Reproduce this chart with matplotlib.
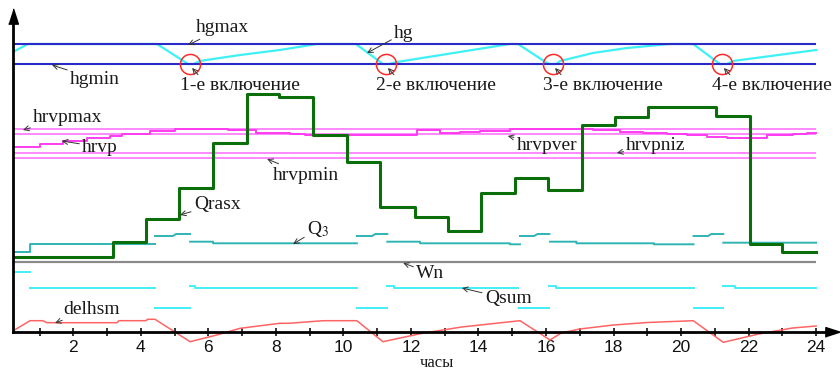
import numpy as np
import matplotlib
matplotlib.use('Agg')
import matplotlib.pyplot as plt

plt.rcParams['font.family'] = ['Liberation Sans', 'DejaVu Sans']
plt.rcParams['mathtext.fontset'] = 'stix'
nan = np.nan

# time span of all curves, hours
t_start, t_end = 0.21, 24.0

# --- reservoir level hg and its limits (arbitrary units, 0 = time axis)
hgmax = 288
hgmin = 268
hg_t = [0.21, 0.66, 4.48, 5.40, 5.57, 5.75, 6.94, 8.12, 9.22, 10.37, 11.17, 11.35, 11.59,
        14.93, 15.17, 16.03, 16.12, 16.30, 16.42, 17.39, 18.40, 19.67, 20.36, 21.07,
        21.16, 21.36, 21.54, 24.0]
hg_v = [280, 288, 288, 268, 268, 271, 277, 282, 288, 288, 268, 268, 270,
        288, 288, 269, 268, 268, 271, 279, 284, 288, 288, 270,
        268, 268, 271, 282]
switch_t = [5.46, 11.26, 16.21, 21.21]
switch_names = ['1-е включение', '2-е включение', '3-е включение', '4-е включение']

# --- hrvp band
hrvpmax = 203
hrvpver = 198
hrvpniz = 179
hrvpmin = 174
hrvp_t = [0.21, 1.01, 1.69, 2.4, 3.09, 3.44, 4.27, 5.01, 6.58, 7.41, 8.42, 8.86, 10.11, 11.08,
          12.18, 12.86, 13.45, 14.05, 14.93, 17.39, 18.19, 18.88, 19.59, 20.18, 20.77, 21.36,
          22.55, 23.32, 23.73, 24.0]
hrvp_v = [185, 188, 191, 194, 196.5, 198, 201.3, 203, 202, 198.7, 198, 197, 197, 197.5,
          202, 199, 200, 201.3, 203, 202, 200.3, 198.7, 198, 197, 195.3, 194,
          197, 198, 199, 199]

# --- Qrasx (step function)
qrasx_t = [0.21, 3.18, 4.15, 5.13, 6.14, 7.15, 8.1, 9.1, 10.1, 11.08, 12.12, 13.1, 14.07,
           15.08, 16.06, 17.07, 18.05, 19.03, 21.04, 22.03, 23.0, 24.0]
qrasx_v = [75.3, 90.3, 113, 144, 189, 237.7, 234.7, 197, 170.3, 125.3, 115, 101, 139.3,
           154.3, 142, 207, 214.7, 225.3, 216, 88, 79.7, 79.7]

# --- Q3 (segments separated by nan)
q3_t = [0.21, 0.72, 0.72, 4.42, nan, 4.42, 4.95, 5.05, 5.46, nan,
        5.46, 6.14, 6.14, 10.4, nan, 10.4, 10.85, 10.95, 11.3, nan,
        11.3, 12.27, 12.27, 14.93, 14.93, 15.23, nan, 15.23, 15.65, 15.75, 16.1, nan,
        16.12, 16.9, 16.9, 19.2, 19.2, 20.37, nan, 20.37, 20.8, 20.9, 21.25, nan,
        21.25, 24.0]
q3_v = [80, 80, 88, 88, nan, 96, 96, 98, 98, nan,
        90.3, 90.3, 88.7, 88.7, nan, 96, 96, 98, 98, nan,
        90.3, 90.3, 88.7, 88.7, 87.7, 87.7, nan, 96, 96, 98, 98, nan,
        90.3, 90.3, 88.7, 88.7, 87.7, 87.7, nan, 96, 96, 98, 98, nan,
        89.3, 89.3]

# --- Wn
wn = 69.7

# --- Qsum
qsum_t = [0.21, 0.72, nan, 0.72, 4.42, nan, 4.42, 5.46, nan, 5.46, 5.6, 5.6, 10.4, nan,
          10.4, 11.3, nan, 11.3, 11.5, 11.5, 15.17, nan, 15.2, 16.1, nan,
          16.1, 16.3, 16.3, 20.37, nan, 20.37, 21.25, nan, 21.25, 21.6, 21.6, 24.0]
qsum_v = [59.7, 59.7, nan, 43.7, 43.7, nan, 23.7, 23.7, nan, 46.3, 46.3, 43.7, 43.7, nan,
          23.7, 23.7, nan, 46.3, 46.3, 43.7, 43.7, nan, 23.7, 23.7, nan,
          46.3, 46.3, 43.7, 43.7, nan, 23.7, 23.7, nan, 46.3, 46.3, 43.7, 43.7]

# --- delhsm
dh_t = [0.21, 0.72, 1.1, 1.22, 3.3, 3.35, 4.15, 4.2, 4.42, 5.46, 6.25, 6.94, 8.12, 8.4, 9.0,
        9.4, 10.4, 11.17, 12.3, 13.5, 15.23, 16.12, 16.45, 17.0, 18.0, 19.0, 20.36, 21.25,
        22.3, 23.3, 24.0]
dh_v = [1, 11.3, 11.3, 9.3, 9.3, 11.3, 11.3, 12.7, 12.7, -9.7, -3, 3.7, 8.7, 8.7, 10.3,
        11.3, 11.3, -9.7, -1.5, 5, 11.3, -8, -1, 3, 7, 9.5, 11.3, -10.3,
        -2, 4, 6]

fig = plt.figure(figsize=(8.4, 3.7), dpi=100)
ax = fig.add_axes([12.5 / 840, 0, (833 - 12.5) / 840, 354 / 370])
ax.set_xlim(0.2, 24.5)
ax.set_ylim(-38, 316)

blue = '#2a2ac8'
cyan = '#3ff0f5'
pink = '#ff80ff'

# hg group
ax.plot(hg_t, hg_v, color=cyan, lw=1.6, zorder=2)
ax.hlines([hgmax, hgmin], t_start, t_end, color=blue, lw=1.5, zorder=3)
ax.plot(switch_t, [hgmin] * len(switch_t), 'o', ms=14.5, mfc='none', mec='#ff2a2a', mew=1.1, zorder=4)

# hrvp group
ax.hlines([hrvpmax, hrvpver, hrvpniz, hrvpmin], t_start, t_end, color=pink, lw=1.3, zorder=2)
ax.plot(hrvp_t, hrvp_v, color='#ff3cf0', lw=1.4, drawstyle='steps-post', zorder=2)

ax.plot(q3_t, q3_v, color='#2fb4b4', lw=1.4, zorder=2)
ax.hlines(wn, t_start, t_end, color='#8a8a8a', lw=1.6, zorder=2)
ax.plot(qsum_t, qsum_v, color=cyan, lw=1.4, zorder=2)
ax.plot(dh_t, dh_v, color='#ff6464', lw=1.1, zorder=2)
ax.plot(qrasx_t, qrasx_v, color='#0a6e0a', lw=2.2, drawstyle='steps-post', zorder=3)

# axes with arrows
for s in ['top', 'right']:
    ax.spines[s].set_visible(False)
ax.spines['bottom'].set_position(('data', 0))
ax.spines['left'].set_bounds(0, 316)
for s in ['bottom', 'left']:
    ax.spines[s].set_linewidth(2)
    ax.spines[s].set_zorder(5)
ax.plot([1], [0], marker=[(-0.5, -0.32), (-0.5, 0.32), (0.5, 0)], ms=11, color='k',
        transform=ax.get_yaxis_transform(), clip_on=False, zorder=6)
ax.plot([0.2], [1], marker=[(-0.32, -0.5), (0.32, -0.5), (0, 0.5)], ms=11, color='k',
        transform=ax.get_xaxis_transform(), clip_on=False, zorder=6)
ax.set_yticks([])
ax.set_xticks(range(2, 25, 2))
ax.set_xticks(range(1, 25, 2), minor=True)
ax.tick_params(axis='x', which='both', direction='inout', length=5.5, width=1.2, pad=3,
               labelsize=12.5, colors='#111111')
ax.text(12.77, -31, 'часы', ha='center', va='center', family='Liberation Serif',
        fontsize=12, color='#1a1a1a')
ax.patch.set_alpha(0)

# labels with arrows: text, target (t, y), text centre (t, y), relpos
notes = [
    ('hgmax', (5.40, 287), (6.43, 304), (0.5, 0.5)),
    ('hg', (10.70, 279), (11.79, 299), (0.5, 0.5)),
    ('hgmin', (1.37, 267), (2.64, 253), (0.5, 0.5)),
    ('hrvpmax', (0.51, 202), (1.84, 215), (0.5, 0.5)),
    ('hrvp', (1.66, 191), (2.79, 185), (0.5, 0.5)),
    ('hrvpmin', (7.74, 173), (8.89, 157), (0.5, 0.5)),
    ('hrvpver', (14.87, 196), (16.03, 187), (0.5, 0.5)),
    ('hrvpniz', (18.10, 179), (19.26, 187), (0.5, 0.5)),
    ('Qrasx', (5.16, 117), (6.26, 128), (0.5, 0.5)),
    ('Q$_3$', (8.51, 88), (9.25, 103), (0.5, 0.5)),
    ('Wn', (11.77, 69), (12.57, 59), (0.5, 0.5)),
    ('Qsum', (13.51, 44), (14.88, 33), (0.5, 0.5)),
    ('delhsm', (1.46, 9), (2.55, 23), (0.5, 0.5)),
]
for name, t in zip(switch_names, switch_t):
    notes.append((name, (t + 0.06, 264), (t + 1.48, 246), (0.17, 1.0)))

for text, xy, xyt, rp in notes:
    ax.annotate(text, xy=xy, xytext=xyt, ha='center', va='center',
                family='Liberation Serif', fontsize=14, color='#1a1a1a',
                arrowprops=dict(arrowstyle='->', color='#333333', lw=0.7,
                                shrinkA=0, shrinkB=0, mutation_scale=9, relpos=rp),
                zorder=7)

fig.savefig('out.png', dpi=100)
